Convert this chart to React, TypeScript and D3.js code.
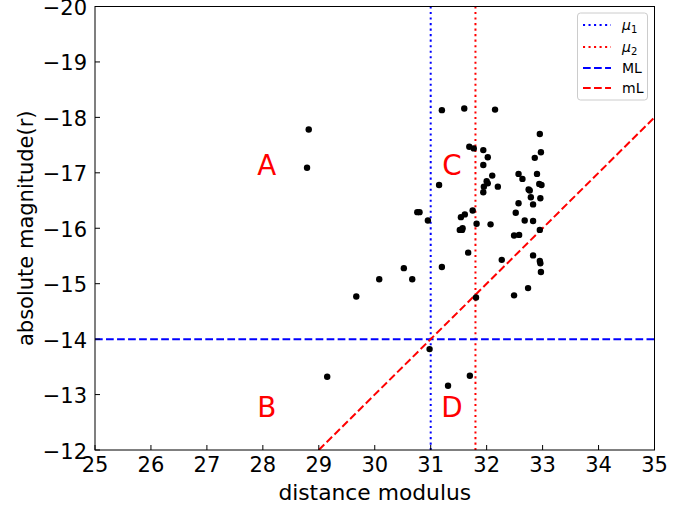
import React from "react";
import * as d3 from "d3";

const W = 692;
const H = 508;
const M = { left: 95, right: 654.5, top: 6.5, bottom: 450 };

const distMod = [
  28.82, 28.79,
  31.2, 31.6, 31.69, 31.77, 31.15, 30.76, 30.8, 30.95, 31.75, 31.61, 31.54, 31.82, 31.57, 31.52, 31.56,
  32.15, 31.94, 32.02, 31.94, 32.1, 32.0, 32.02, 31.95, 31.94, 32.2, 32.07, 32.95, 32.97, 32.86, 32.57,
  32.64, 32.9, 32.75, 32.77, 32.94, 32.98, 32.79, 32.57, 32.83, 32.96, 32.52, 32.68, 32.83, 32.95, 32.49, 32.58,
  31.67, 32.27, 32.83, 32.95, 32.96, 32.97, 31.2, 30.52, 30.67, 30.08, 29.67, 31.81, 32.49, 32.74, 30.98,
  29.15, 31.7, 31.31,
];
const absMag = [
  -17.78, -17.09,
  -18.13, -18.16, -17.47, -17.44, -16.78, -16.29, -16.29, -16.14, -16.32, -16.25, -16.2, -16.08, -16.0, -15.97, -15.97,
  -18.14, -17.41, -17.28, -17.14, -16.95, -16.85, -16.81, -16.75, -16.65, -16.75, -16.07, -17.7, -17.37, -17.27, -16.98,
  -16.89, -16.98, -16.7, -16.68, -16.8, -16.78, -16.56, -16.45, -16.43, -16.54, -16.28, -16.14, -16.13, -15.97, -15.87, -15.88,
  -15.56, -15.43, -15.51, -15.41, -15.37, -15.21, -15.3, -15.28, -15.08, -15.08, -14.77, -14.75, -14.79, -14.92, -13.82,
  -13.32, -13.34, -13.16,
];

const xTicks = [25, 26, 27, 28, 29, 30, 31, 32, 33, 34, 35];
const yTicks = [-20, -19, -18, -17, -16, -15, -14, -13, -12];

const mu1 = 31;
const mu2 = 31.8;
const ML = -14;
const mLx = [29, 35];
const mLy = [-12, -18];

const regionNames = ["A", "C", "B", "D"];
const regionX = [28.07, 31.38, 28.07, 31.38];
const regionY = [-17.13, -17.13, -12.77, -12.77];

const legendNames = ["μ", "μ", "ML", "mL"];
const legendSubs = ["1", "2", "", ""];
const legendColors = ["#0000ff", "#ff0000", "#0000ff", "#ff0000"];
const legendDash = ["2.08,3.44", "2.08,3.44", "7.7,3.33", "7.7,3.33"];

export default function App() {
  const x = d3.scaleLinear().domain([25, 35]).range([M.left, M.right]);
  const y = d3.scaleLinear().domain([-20, -12]).range([M.top, M.bottom]);
  const font = "DejaVu Sans, sans-serif";
  const dotted = "2.08,3.44";
  const dashed = "7.7,3.33";
  const legY = [25, 47, 68, 88];
  return (
    <svg width={W} height={H} style={{ position: "absolute", left: 0, top: 0, background: "#fff" }} fontFamily={font}>
      <defs>
        <clipPath id="plot">
          <rect x={M.left} y={M.top} width={M.right - M.left} height={M.bottom - M.top} />
        </clipPath>
      </defs>
      <g clipPath="url(#plot)">
        <line x1={x(mu1)} x2={x(mu1)} y1={M.top} y2={M.bottom} stroke="#0000ff" strokeWidth={2} strokeDasharray={dotted} />
        <line x1={x(mu2)} x2={x(mu2)} y1={M.top} y2={M.bottom} stroke="#ff0000" strokeWidth={2} strokeDasharray={dotted} />
        <line x1={M.left} x2={M.right} y1={y(ML)} y2={y(ML)} stroke="#0000ff" strokeWidth={2} strokeDasharray={dashed} />
        <line x1={x(mLx[0])} x2={x(mLx[1])} y1={y(mLy[0])} y2={y(mLy[1])} stroke="#ff0000" strokeWidth={2} strokeDasharray={dashed} />
        {distMod.map((d, i) => (
          <circle key={i} cx={x(d)} cy={y(absMag[i])} r={3.2} fill="#000" />
        ))}
      </g>
      {regionNames.map((n, i) => (
        <text key={n} x={x(regionX[i])} y={y(regionY[i])} fill="#ff0000" fontSize={27.8} textAnchor="middle" dominantBaseline="central">
          {n}
        </text>
      ))}
      <rect x={M.left} y={M.top} width={M.right - M.left} height={M.bottom - M.top} fill="none" stroke="#000" strokeWidth={1} />
      {xTicks.map((t) => (
        <g key={t}>
          <line x1={x(t)} x2={x(t)} y1={M.bottom} y2={M.bottom - 5} stroke="#000" strokeWidth={1} />
          <text x={x(t)} y={M.bottom + 7} fontSize={21} textAnchor="middle" dominantBaseline="hanging" fill="#000">
            {t}
          </text>
        </g>
      ))}
      {yTicks.map((t) => (
        <g key={t}>
          <line x1={M.left} x2={M.left + 5} y1={y(t)} y2={y(t)} stroke="#000" strokeWidth={1} />
          <text x={M.left - 8} y={y(t) + 1.5} fontSize={21} textAnchor="end" dominantBaseline="central" fill="#000">
            {"\u2212" + Math.abs(t)}
          </text>
        </g>
      ))}
      <text x={(M.left + M.right) / 2} y={492} fontSize={21.8} textAnchor="middle" dominantBaseline="central" fill="#000">
        distance modulus
      </text>
      <text transform={`translate(26,${(M.top + M.bottom) / 2}) rotate(-90)`} fontSize={21} textAnchor="middle" dominantBaseline="central" fill="#000">
        absolute magnitude(r)
      </text>
      <g>
        <rect x={577.5} y={13} width={70} height={87} rx={3} fill="#fff" fillOpacity={0.8} stroke="#cccccc" strokeWidth={1} />
        {legendNames.map((n, i) => (
          <g key={i}>
            <line x1={583} x2={611} y1={legY[i]} y2={legY[i]} stroke={legendColors[i]} strokeWidth={2} strokeDasharray={legendDash[i]} />
            <text x={622} y={legY[i]} fontSize={14} dominantBaseline="central" fill="#000">
              {legendSubs[i] ? (
                <>
                  <tspan fontStyle="italic">{n}</tspan>
                  <tspan fontSize={10} dy={4}>{legendSubs[i]}</tspan>
                </>
              ) : (
                n
              )}
            </text>
          </g>
        ))}
      </g>
    </svg>
  );
}
